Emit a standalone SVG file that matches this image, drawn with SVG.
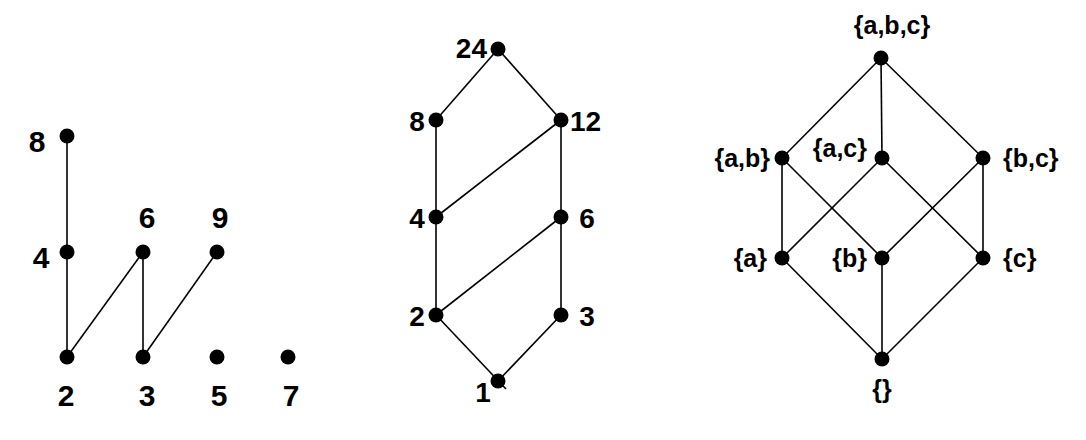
<svg xmlns="http://www.w3.org/2000/svg" width="1086" height="440" viewBox="0 0 1086 440">
<style>
.e{stroke:#000;stroke-width:1.6;fill:none}
.d{fill:#000}
text{font-family:"Liberation Sans",Arial,sans-serif;font-weight:bold;fill:#000}
.l1{font-size:30px}
.l2{font-size:28px}
.l3{font-size:25px}
.m{text-anchor:middle}
.s{text-anchor:start}
.n{text-anchor:end}
</style>
<rect width="1086" height="440" fill="#fff"/>
<g id="connectors">
<line class="e" x1="67" y1="136" x2="67" y2="252"/>
<line class="e" x1="67" y1="252" x2="67" y2="357"/>
<line class="e" x1="143" y1="252" x2="67" y2="357"/>
<line class="e" x1="143" y1="252" x2="143" y2="357"/>
<line class="e" x1="217" y1="252" x2="143" y2="357"/>
<line class="e" x1="498" y1="49" x2="436" y2="120"/>
<line class="e" x1="498" y1="49" x2="561" y2="120"/>
<line class="e" x1="436" y1="120" x2="436" y2="217"/>
<line class="e" x1="561" y1="120" x2="436" y2="217"/>
<line class="e" x1="561" y1="120" x2="561" y2="217"/>
<line class="e" x1="436" y1="217" x2="436" y2="315"/>
<line class="e" x1="561" y1="217" x2="436" y2="315"/>
<line class="e" x1="561" y1="217" x2="561" y2="315"/>
<line class="e" x1="436" y1="315" x2="506" y2="389"/>
<line class="e" x1="561" y1="315" x2="498" y2="381"/>
<line class="e" x1="881" y1="58" x2="782" y2="158"/>
<line class="e" x1="881" y1="58" x2="882" y2="158"/>
<line class="e" x1="881" y1="58" x2="983" y2="158"/>
<line class="e" x1="782" y1="158" x2="782" y2="258"/>
<line class="e" x1="782" y1="158" x2="882" y2="258"/>
<line class="e" x1="882" y1="158" x2="782" y2="258"/>
<line class="e" x1="882" y1="158" x2="983" y2="258"/>
<line class="e" x1="983" y1="158" x2="882" y2="258"/>
<line class="e" x1="983" y1="158" x2="983" y2="258"/>
<line class="e" x1="782" y1="258" x2="882" y2="359"/>
<line class="e" x1="882" y1="258" x2="882" y2="359"/>
<line class="e" x1="983" y1="258" x2="882" y2="359"/>
</g>
<g id="L8"><circle class="d" cx="67" cy="136" r="7.5"/><text class="l1 m" x="37" y="152">8</text></g>
<g id="L4"><circle class="d" cx="67" cy="252" r="7.5"/><text class="l1 m" x="41" y="268">4</text></g>
<g id="L6"><circle class="d" cx="143" cy="252" r="7.5"/><text class="l1 m" x="147" y="228">6</text></g>
<g id="L9"><circle class="d" cx="217" cy="252" r="7.5"/><text class="l1 m" x="220" y="228">9</text></g>
<g id="L2"><circle class="d" cx="67" cy="357" r="7.5"/><text class="l1 m" x="66" y="406">2</text></g>
<g id="L3"><circle class="d" cx="143" cy="357" r="7.5"/><text class="l1 m" x="147" y="406">3</text></g>
<g id="L5"><circle class="d" cx="217" cy="357" r="7.5"/><text class="l1 m" x="219" y="406">5</text></g>
<g id="L7"><circle class="d" cx="288" cy="357" r="7.5"/><text class="l1 m" x="291" y="406">7</text></g>
<g id="M24"><circle class="d" cx="498" cy="49" r="7.5"/><text class="l2 n" x="487" y="58">24</text></g>
<g id="M8"><circle class="d" cx="436" cy="120" r="7.5"/><text class="l2 m" x="417" y="131">8</text></g>
<g id="M12"><circle class="d" cx="561" cy="120" r="7.5"/><text class="l2 s" x="570" y="131">12</text></g>
<g id="M4"><circle class="d" cx="436" cy="217" r="7.5"/><text class="l2 m" x="417" y="228">4</text></g>
<g id="M6"><circle class="d" cx="561" cy="217" r="7.5"/><text class="l2 m" x="587" y="228">6</text></g>
<g id="M2"><circle class="d" cx="436" cy="315" r="7.5"/><text class="l2 m" x="417" y="326">2</text></g>
<g id="M3"><circle class="d" cx="561" cy="315" r="7.5"/><text class="l2 m" x="587" y="326">3</text></g>
<g id="M1"><circle class="d" cx="498" cy="381" r="7.5"/><text class="l2 m" x="483" y="402">1</text></g>
<g id="Rabc"><circle class="d" cx="881" cy="58" r="7.5"/><text class="l3 m" x="892" y="34">{a,b,c}</text></g>
<g id="Rab"><circle class="d" cx="782" cy="158" r="7.5"/><text class="l3 n" x="770" y="167">{a,b}</text></g>
<g id="Rac"><circle class="d" cx="882" cy="158" r="7.5"/><text class="l3 n" x="867" y="157">{a,c}</text></g>
<g id="Rbc"><circle class="d" cx="983" cy="158" r="7.5"/><text class="l3 s" x="1003" y="167">{b,c}</text></g>
<g id="Ra"><circle class="d" cx="782" cy="258" r="7.5"/><text class="l3 n" x="767" y="267">{a}</text></g>
<g id="Rb"><circle class="d" cx="882" cy="258" r="7.5"/><text class="l3 n" x="867" y="267">{b}</text></g>
<g id="Rc"><circle class="d" cx="983" cy="258" r="7.5"/><text class="l3 s" x="1003" y="267">{c}</text></g>
<g id="Rempty"><circle class="d" cx="882" cy="359" r="7.5"/><text class="l3 m" x="882" y="398">{}</text></g>
</svg>
